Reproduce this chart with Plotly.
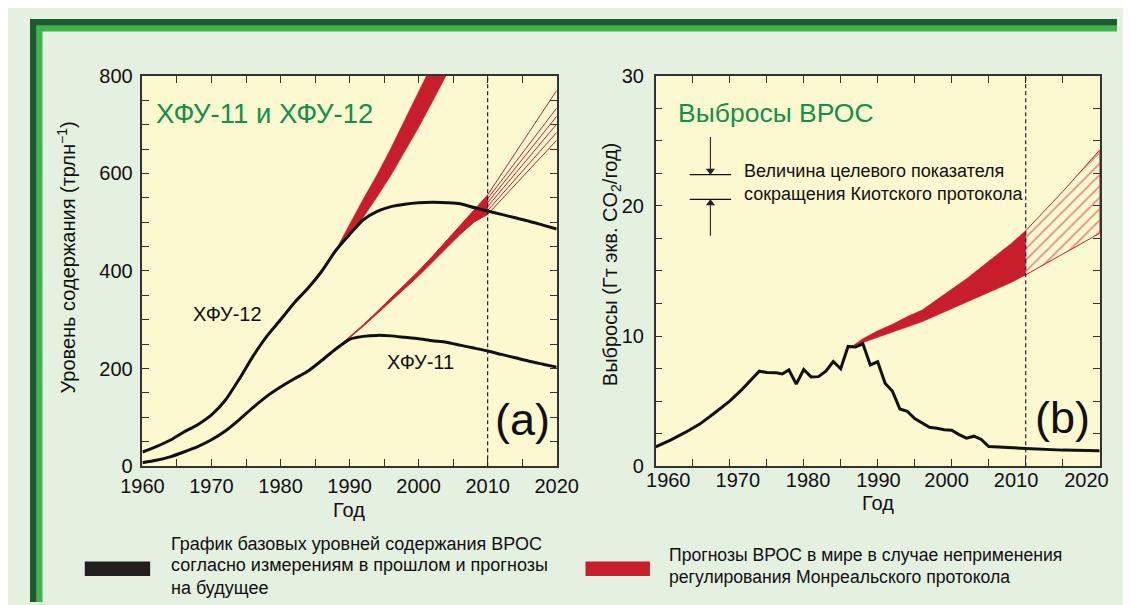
import plotly.graph_objects as go

# ---------------- data ----------------
# Panel (a): atmospheric abundance, ppt
cfc_years = [1960, 1962, 1964, 1966, 1968, 1970, 1972, 1974, 1976, 1978, 1980, 1982, 1984,
             1986, 1988, 1990, 1992, 1994, 1996, 1998, 2000, 2002, 2004, 2006, 2008, 2010,
             2012, 2014, 2016, 2018, 2020]
cfc12_values = [29, 40, 53, 70, 85, 105, 135, 178, 225, 266, 300, 335, 365,
                400, 442, 475, 505, 522, 532, 537, 540, 541, 540, 538, 530, 523,
                516, 509, 502, 494, 486]
cfc11_values = [7, 12, 19, 29, 40, 54, 72, 95, 120, 143, 162, 179, 195,
                217, 240, 260, 266, 268, 267, 264, 261, 257, 254, 248, 242, 236,
                229, 222, 215, 209, 203]

# no-Montreal-Protocol scenario bands (panel a)
cfc12_band_years = [1987.5, 1990, 1992, 1994, 1996, 1998, 2000, 2002, 2004, 2006]
cfc12_band_upper = [430, 497, 548, 598, 652, 710, 766, 822, 880, 940]
cfc12_band_lower = [430, 473, 510, 552, 596, 644, 694, 747, 800, 855]

cfc11_band_years = [1988.7, 1990, 1992, 1994, 1996, 1998, 2000, 2002, 2004, 2006, 2008, 2010]
cfc11_band_upper = [249, 265, 290, 317, 345, 371, 400, 430, 461, 492, 524, 556]
cfc11_band_lower = [249, 263, 287, 312, 338, 364, 390, 418, 446, 475, 500, 516]

# hatched projection beyond 2010 (panel a): fan of lines
hatch_years = [2010, 2020]
cfc11_hatch_start = [556, 548, 540, 532, 524, 516]
cfc11_hatch_end = [770, 734, 717, 701, 684, 668]

projection_start_year = 2010

# Panel (b): ODS emissions, Gt CO2-eq / yr
ods_years = [1960, 1962, 1964, 1966, 1968, 1970, 1971.5, 1972.8, 1974, 1975, 1976.3, 1977.1,
             1978, 1979, 1980, 1981, 1982, 1983, 1984, 1985, 1986, 1987, 1988, 1989,
             1990, 1991, 1992, 1993, 1994, 1995, 1996, 1997, 1998, 1999, 2000, 2001,
             2002, 2003, 2004, 2005, 2010, 2015, 2020]
ods_values = [1.48, 2.0, 2.59, 3.25, 4.1, 5.0, 5.8, 6.6, 7.3, 7.2, 7.18, 7.08,
              7.4, 6.3, 7.43, 6.86, 6.88, 7.3, 8.04, 7.48, 9.2, 9.16, 9.4, 7.78,
              8.02, 6.37, 5.75, 4.39, 4.22, 3.65, 3.33, 2.99, 2.91, 2.79, 2.76, 2.42,
              2.15, 2.30, 2.05, 1.50, 1.36, 1.23, 1.19]

ods_band_years = [1986.5, 1988, 1990, 1992, 1994, 1996, 1998, 2000, 2002, 2004, 2006, 2008, 2010]
ods_band_upper = [9.2, 9.8, 10.4, 10.9, 11.5, 12.0, 12.8, 13.6, 14.4, 15.3, 16.2, 17.1, 18.1]
ods_band_lower = [9.2, 9.5, 9.9, 10.3, 10.7, 11.1, 11.6, 12.1, 12.6, 13.1, 13.6, 14.1, 14.7]

ods_hatch_years = [2010, 2015, 2020]
ods_hatch_upper = [18.1, 21.1, 24.3]
ods_hatch_lower = [14.7, 16.3, 17.9]

# Kyoto target size indicator (panel b)
kyoto_marker_years = [1964.6, 1970.2]
kyoto_levels = [22.4, 20.5]
kyoto_arrow_tails = [25.3, 17.7]

x_ticks = list(range(1960, 2021, 5))
x_labels = ["1960", "1970", "1980", "1990", "2000", "2010", "2020"]
xb_label_pos = [1961.7, 1971.1, 1980.6, 1990.1, 1999.3, 2008.7, 2018.2]
ya_ticks = list(range(0, 801, 50))
yb_ticks = [i * 2.5 for i in range(13)]

# ---------------- style ----------------
W, H = 1131, 605
RED = "#c81e2b"
BLACK = "#111111"
GREEN_TXT = "#14904a"
FONT = "Liberation Sans, Arial, sans-serif"
AXC = "#333333"
HEAD_OFFSET = 0.3  # arrow head sits just outside the bar (in axis units)


def px(x):
    return x / W


def py(y):
    return 1 - y / H


def poly(xs, up, lo):
    return list(xs) + list(xs)[::-1], list(up) + list(lo)[::-1]


fig = go.Figure()

# ---- panel (a) ----
bx, by = poly(cfc12_band_years, cfc12_band_upper, cfc12_band_lower)
fig.add_trace(go.Scatter(x=bx, y=by, fill="toself", fillcolor=RED, mode="lines",
                         line=dict(color=RED, width=0.5), xaxis="x", yaxis="y", hoverinfo="skip"))
bx, by = poly(cfc11_band_years, cfc11_band_upper, cfc11_band_lower)
fig.add_trace(go.Scatter(x=bx, y=by, fill="toself", fillcolor=RED, mode="lines",
                         line=dict(color=RED, width=1), xaxis="x", yaxis="y", hoverinfo="skip"))
hx, hy = [], []
for s, e in zip(cfc11_hatch_start, cfc11_hatch_end):
    hx += [hatch_years[0], hatch_years[1], None]
    hy += [s, e, None]
fig.add_trace(go.Scatter(x=hx, y=hy, mode="lines", line=dict(color=RED, width=1),
                         xaxis="x", yaxis="y", hoverinfo="skip"))
fig.add_trace(go.Scatter(x=cfc_years, y=cfc12_values, mode="lines",
                         line=dict(color=BLACK, width=3, shape="spline", smoothing=0.6),
                         xaxis="x", yaxis="y"))
fig.add_trace(go.Scatter(x=cfc_years, y=cfc11_values, mode="lines",
                         line=dict(color=BLACK, width=3, shape="spline", smoothing=0.6),
                         xaxis="x", yaxis="y"))

# ---- panel (b) ----
bx, by = poly(ods_band_years, ods_band_upper, ods_band_lower)
fig.add_trace(go.Scatter(x=bx, y=by, fill="toself", fillcolor=RED, mode="lines",
                         line=dict(color=RED, width=0.5), xaxis="x2", yaxis="y2", hoverinfo="skip"))
bx, by = poly(ods_hatch_years, ods_hatch_upper, ods_hatch_lower)
fig.add_trace(go.Scatter(x=bx, y=by, fill="toself", fillcolor="rgba(0,0,0,0)", mode="lines",
                         line=dict(color=RED, width=1),
                         fillpattern=dict(shape="/", fgcolor=RED, bgcolor="rgba(0,0,0,0)",
                                          size=8, solidity=0.2),
                         xaxis="x2", yaxis="y2", hoverinfo="skip"))
fig.add_trace(go.Scatter(x=ods_years, y=ods_values, mode="lines",
                         line=dict(color=BLACK, width=3), xaxis="x2", yaxis="y2"))

# Kyoto indicator: bars, arrow shafts and arrow heads
arrow_x = sum(kyoto_marker_years) / 2
kx, ky = [], []
for lvl in kyoto_levels:
    kx += [kyoto_marker_years[0], kyoto_marker_years[1], None]
    ky += [lvl, lvl, None]
fig.add_trace(go.Scatter(x=kx, y=ky, mode="lines", line=dict(color="#111111", width=1.2),
                         xaxis="x2", yaxis="y2", hoverinfo="skip"))
sx, sy = [], []
for lvl, tail in zip(kyoto_levels, kyoto_arrow_tails):
    sx += [arrow_x, arrow_x, None]
    sy += [tail, lvl, None]
fig.add_trace(go.Scatter(x=sx, y=sy, mode="lines", line=dict(color="#333333", width=1.2),
                         xaxis="x2", yaxis="y2", hoverinfo="skip"))
fig.add_trace(go.Scatter(x=[arrow_x, arrow_x],
                         y=[kyoto_levels[0] + HEAD_OFFSET, kyoto_levels[1] - HEAD_OFFSET],
                         mode="markers",
                         marker=dict(symbol=["triangle-down", "triangle-up"], size=8,
                                     color="#222222", line=dict(width=0)),
                         xaxis="x2", yaxis="y2", hoverinfo="skip"))

# invisible trace carrying the label axis of panel (b)
fig.add_trace(go.Scatter(x=[1960, 2020], y=[0, 0], mode="lines", line=dict(width=0),
                         opacity=0, xaxis="x3", yaxis="y2", hoverinfo="skip"))

# ---------------- axes ----------------
tick_font = dict(family=FONT, size=20, color="#111111")
common = dict(showline=True, linecolor=AXC, linewidth=1.5, mirror="ticks", ticks="inside",
              ticklen=7, tickwidth=1.2, tickcolor=AXC, showgrid=False, zeroline=False,
              tickfont=tick_font)

fig.update_layout(
    xaxis=dict(domain=[px(117), px(548)], range=[1960, 2020], anchor="y",
               tickvals=x_ticks, ticktext=[str(t) if t % 10 == 0 else "" for t in x_ticks],
               ticklabelstandoff=1, **common),
    yaxis=dict(domain=[py(464), py(59)], range=[0, 800], anchor="x",
               tickvals=ya_ticks, ticktext=[str(t) if t % 200 == 0 else "" for t in ya_ticks],
               ticklabelstandoff=4, **common),
    xaxis2=dict(domain=[px(651), px(1113)], range=[1960, 2020], anchor="y2",
                tickvals=x_ticks, ticktext=["" for t in x_ticks], **common),
    xaxis3=dict(overlaying="x2", anchor="y2", range=[1960, 2020], side="bottom",
                showline=False, ticks="", showgrid=False, zeroline=False,
                tickvals=xb_label_pos, ticktext=x_labels, tickfont=tick_font,
                ticklabelstandoff=0),
    yaxis2=dict(domain=[py(464), py(59)], range=[0, 30], anchor="x2",
                tickvals=yb_ticks, ticktext=[str(int(t)) if t % 10 == 0 else "" for t in yb_ticks],
                ticklabelstandoff=6, **common),
)

# ---------------- shapes ----------------
shapes = []
# page frame
shapes.append(dict(type="rect", xref="paper", yref="paper", x0=0, x1=1, y0=py(7), y1=1,
                   fillcolor="#1d5a2e", line_width=0, layer="above"))
shapes.append(dict(type="rect", xref="paper", yref="paper", x0=0, x1=px(7), y0=0, y1=1,
                   fillcolor="#1d5a2e", line_width=0, layer="above"))
shapes.append(dict(type="rect", xref="paper", yref="paper", x0=px(7), x1=1, y0=py(13), y1=py(7),
                   fillcolor="#3bb54a", line_width=0, layer="above"))
shapes.append(dict(type="rect", xref="paper", yref="paper", x0=px(7), x1=px(13), y0=0, y1=py(7),
                   fillcolor="#3bb54a", line_width=0, layer="above"))
# projection start dashed lines
for xr, yr in (("x", "y domain"), ("x2", "y2 domain")):
    shapes.append(dict(type="line", xref=xr, yref=yr, x0=projection_start_year,
                       x1=projection_start_year, y0=0, y1=1,
                       line=dict(color="#222222", width=1.2, dash="4px,3px")))
# legend swatches
shapes.append(dict(type="rect", xref="paper", yref="paper", x0=px(57), x1=px(125),
                   y0=py(578), y1=py(563), fillcolor="#231f20", line_width=0))
shapes.append(dict(type="rect", xref="paper", yref="paper", x0=px(578), x1=px(645),
                   y0=py(578), y1=py(563), fillcolor=RED, line_width=0))
fig.update_layout(shapes=shapes)

# ---------------- annotations ----------------
ann = []


def text(x, y, s, size, color="#111111", xanchor="left", angle=0):
    ann.append(dict(x=px(x), y=py(y), xref="paper", yref="paper", text=s, showarrow=False,
                    xanchor=xanchor, yanchor="middle", textangle=angle,
                    font=dict(family=FONT, size=size, color=color)))


text(129, 98, "ХФУ-11 и ХФУ-12", 27.5, GREEN_TXT)
text(672, 98, "Выбросы ВРОС", 26.5, GREEN_TXT)
text(205, 306, "ХФУ-12", 20, xanchor="center")
text(406, 356, "ХФУ-11", 20, xanchor="center")
text(512, 416, "(a)", 45, xanchor="center")
text(1074, 414, "(b)", 45, xanchor="center")
text(38, 248, "Уровень содержания (трлн<sup>−1</sup>)", 20, xanchor="center", angle=-90)
text(605, 255, "Выбросы (Гт экв. CO<sub>2</sub>/год)", 20, xanchor="center", angle=-90)
text(332, 510, "Год", 20, xanchor="center")
text(882, 502, "Год", 20, xanchor="center")
text(741, 158, "Величина целевого показателя", 18)
text(741, 182, "сокращения Киотского протокола", 18)
text(145, 545, "График базовых уровней содержания ВРОС", 18)
text(145, 567, "согласно измерениям в прошлом и прогнозы", 18)
text(145, 590, "на будущее", 18)
text(663, 556, "Прогнозы ВРОС в мире в случае неприменения", 17.6)
text(663, 579, "регулирования Монреальского протокола", 17.6)
fig.update_layout(annotations=ann)

fig.update_layout(
    width=W, height=H, autosize=False,
    margin=dict(l=0, r=0, t=0, b=0),
    paper_bgcolor="#e4f0e0", plot_bgcolor="#fcf8cf",
    showlegend=False,
    font=dict(family=FONT),
)

fig.write_html("out.html")
